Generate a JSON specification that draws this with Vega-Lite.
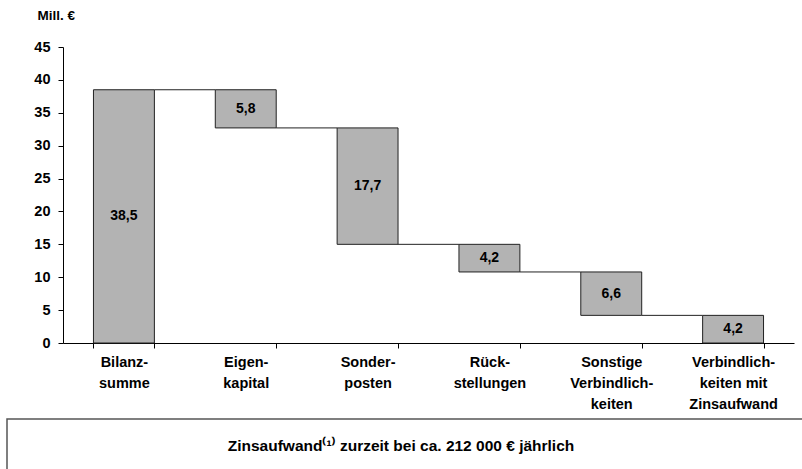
{
  "$schema": "https://vega.github.io/schema/vega-lite/v6.json",
  "padding": {"left": 6, "top": 8, "right": 0, "bottom": 0},
  "background": "white",
  "spacing": 7,
  "config": {
    "font": "Liberation Sans",
    "view": {"stroke": null}
  },
  "datasets": {
    "bars": [
      {"cat": "Bilanz-|summe", "lo": 0, "hi": 38.5, "label": "38,5"},
      {"cat": "Eigen-|kapital", "lo": 32.7, "hi": 38.5, "label": "5,8"},
      {"cat": "Sonder-|posten", "lo": 15.0, "hi": 32.7, "label": "17,7"},
      {"cat": "Rück-|stellungen", "lo": 10.8, "hi": 15.0, "label": "4,2"},
      {"cat": "Sonstige|Verbindlich-|keiten", "lo": 4.2, "hi": 10.8, "label": "6,6"},
      {"cat": "Verbindlich-|keiten mit|Zinsaufwand", "lo": 0, "hi": 4.2, "label": "4,2"}
    ],
    "links": [
      {"from": "Bilanz-|summe", "to": "Eigen-|kapital", "level": 38.5},
      {"from": "Eigen-|kapital", "to": "Sonder-|posten", "level": 32.7},
      {"from": "Sonder-|posten", "to": "Rück-|stellungen", "level": 15.0},
      {"from": "Rück-|stellungen", "to": "Sonstige|Verbindlich-|keiten", "level": 10.8},
      {"from": "Sonstige|Verbindlich-|keiten", "to": "Verbindlich-|keiten mit|Zinsaufwand", "level": 4.2}
    ],
    "note": [
      {"text": "Zinsaufwand⁽¹⁾ zurzeit bei ca. 212 000 € jährlich"}
    ]
  },
  "vconcat": [
    {
      "width": 787,
      "height": 296,
      "layer": [
        {
          "data": {"name": "links"},
          "mark": {"type": "rule", "color": "#222", "strokeWidth": 1},
          "encoding": {
            "x": {"field": "from", "type": "nominal", "bandPosition": 1},
            "x2": {"field": "to", "bandPosition": 0},
            "y": {"field": "level", "type": "quantitative"}
          }
        },
        {
          "data": {"name": "bars"},
          "mark": {"type": "bar", "fill": "#b3b3b3", "stroke": "#222", "strokeWidth": 1},
          "encoding": {
            "x": {"field": "cat", "type": "nominal"},
            "y": {"field": "lo", "type": "quantitative"},
            "y2": {"field": "hi"}
          }
        },
        {
          "data": {"name": "bars"},
          "transform": [{"calculate": "(datum.lo + datum.hi) / 2", "as": "mid"}],
          "mark": {"type": "text", "font": "Liberation Sans", "fontWeight": "bold", "fontSize": 14, "color": "black", "baseline": "middle"},
          "encoding": {
            "x": {"field": "cat", "type": "nominal"},
            "y": {"field": "mid", "type": "quantitative"},
            "text": {"field": "label"}
          }
        }
      ],
      "encoding": {
        "x": {
          "field": "cat",
          "type": "nominal",
          "scale": {
            "domain": ["Bilanz-|summe", "Eigen-|kapital", "Sonder-|posten", "Rück-|stellungen", "Sonstige|Verbindlich-|keiten", "Verbindlich-|keiten mit|Zinsaufwand"],
            "range": [56, 787],
            "paddingInner": 0.5,
            "paddingOuter": 0.25
          },
          "axis": {
            "title": null,
            "labelAngle": 0,
            "labelExpr": "split(datum.label, '|')",
            "labelFont": "Liberation Sans",
            "labelFontWeight": "bold",
            "labelFontSize": 14.5,
            "labelColor": "black",
            "labelLineHeight": 21,
            "labelPadding": 7,
            "labelBaseline": "top",
            "tickBand": "extent",
            "tickColor": "black",
            "tickSize": 5,
            "domainColor": "black",
            "grid": false
          }
        },
        "y": {
          "type": "quantitative",
          "scale": {"domain": [0, 45], "nice": false},
          "axis": {
            "values": [0, 5, 10, 15, 20, 25, 30, 35, 40, 45],
            "offset": -56,
            "title": "Mill. €",
            "titleAngle": 0,
            "titleAlign": "left",
            "titleBaseline": "middle",
            "titleX": -26,
            "titleY": -32,
            "titleFont": "Liberation Sans",
            "titleFontWeight": "bold",
            "titleFontSize": 13.5,
            "titleColor": "black",
            "labelFont": "Liberation Sans",
            "labelFontWeight": "bold",
            "labelFontSize": 14.5,
            "labelColor": "black",
            "labelPadding": 8,
            "tickColor": "black",
            "tickSize": 5,
            "domainColor": "black",
            "grid": false
          }
        }
      }
    },
    {
      "width": 800,
      "height": 54,
      "view": {"stroke": "#555", "strokeWidth": 1.5},
      "data": {"name": "note"},
      "mark": {"type": "text", "font": "Liberation Sans", "fontWeight": "bold", "fontSize": 15.5, "color": "black", "dx": -6, "dy": 0, "baseline": "middle", "align": "center"},
      "encoding": {
        "text": {"field": "text"}
      }
    }
  ]
}
